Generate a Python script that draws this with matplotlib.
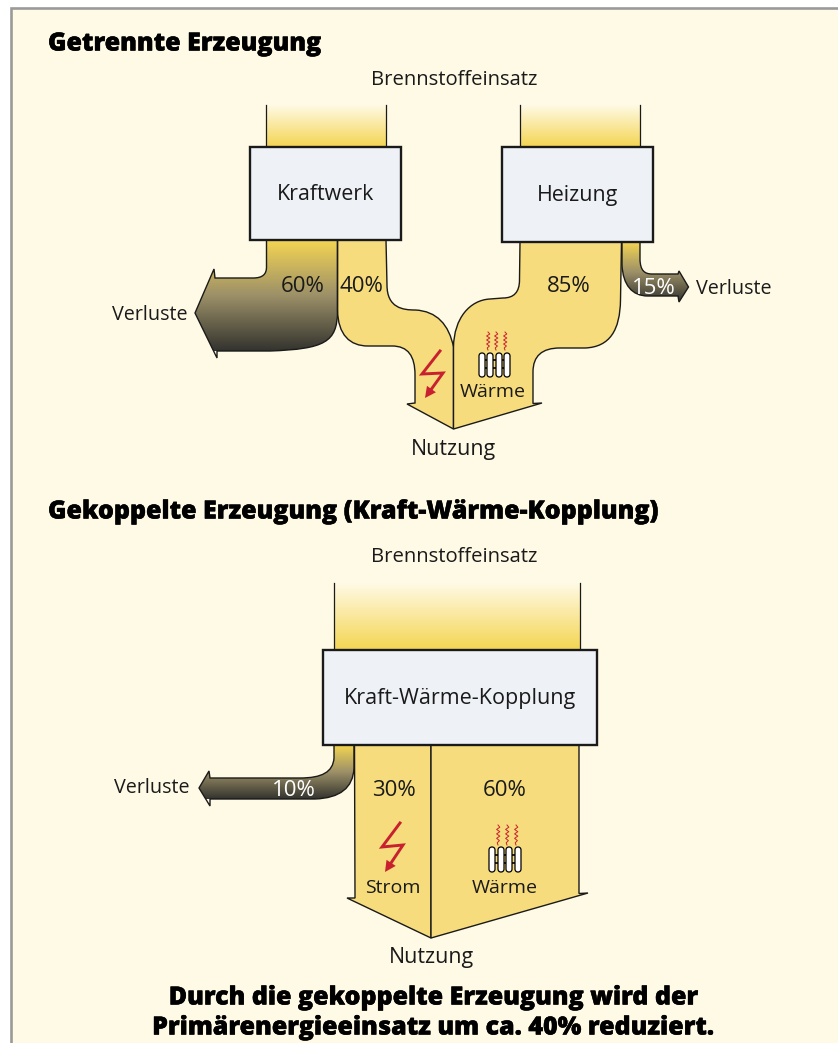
import numpy as np
import matplotlib
matplotlib.use("Agg")
import matplotlib.pyplot as plt
import matplotlib.patheffects as pe
from matplotlib.path import Path
from matplotlib.patches import PathPatch, Rectangle
from matplotlib.colors import LinearSegmentedColormap

plt.rcParams['font.family'] = ['Open Sans', 'DejaVu Sans']

# texts and values of the chart
titles = ["Getrennte Erzeugung", "Gekoppelte Erzeugung (Kraft-Wärme-Kopplung)"]
fuel_label = "Brennstoffeinsatz"
loss_label = "Verluste"
use_label = "Nutzung"
box_labels = ["Kraftwerk", "Heizung", "Kraft-Wärme-Kopplung"]
separate_pct = [60, 40, 85, 15]
coupled_pct = [10, 30, 60]
use_names = ["Wärme", "Strom"]
footer = ["Durch die gekoppelte Erzeugung wird der",
          "Primärenergieeinsatz um ca. 40% reduziert."]

# colours
panel_col = "#FFFAE5"
frame_col = "#9A9A9A"
stream_col = "#F6DC7C"
box_col = "#EEF2F7"
grad_top = "#F4D552"
grad_mid = "#9C9068"
grad_dark = "#33332E"
red = "#C8202F"
ink = "#1A1A1A"

W, H = 838, 1043
fig = plt.figure(figsize=(W / 100, H / 100), dpi=100)
ax = fig.add_axes([0, 0, 1, 1])
ax.set_xlim(0, W)
ax.set_ylim(H, 0)
ax.axis("off")

ax.add_patch(Rectangle((10.5, 8), W + 20, H + 20, fc=panel_col, ec=frame_col, lw=1.9, zorder=0))


def make_path(start, segs, close=True):
    verts = [start]
    codes = [Path.MOVETO]
    for s in segs:
        if len(s) == 2:
            verts.append(s)
            codes.append(Path.LINETO)
        else:
            verts += [s[0:2], s[2:4], s[4:6]]
            codes += [Path.CURVE4] * 3
    if close:
        verts.append(start)
        codes.append(Path.CLOSEPOLY)
    return Path(verts, codes)


def flow(start, segs):
    ax.add_patch(PathPatch(make_path(start, segs), fc=stream_col, ec=ink, lw=1.0, zorder=2))


def grad_fill(path, x0, x1, y0, y1, cols, z=2):
    cmap = LinearSegmentedColormap.from_list("g", cols)
    im = ax.imshow(np.linspace(0, 1, 256).reshape(-1, 1), cmap=cmap, extent=(x0, x1, y1, y0),
                   aspect="auto", zorder=z, interpolation="bilinear")
    p = PathPatch(path, fc="none", ec="none", transform=ax.transData)
    ax.add_patch(p)
    im.set_clip_path(p)
    ax.set_xlim(0, W)
    ax.set_ylim(H, 0)


def loss_arrow(start, segs, y0, y1):
    path = make_path(start, segs)
    grad_fill(path, 0, W, y0, y1, [grad_top, grad_mid, grad_dark])
    ax.add_patch(PathPatch(path, fc="none", ec=ink, lw=1.0, zorder=3))


def fuel(x0, x1, y0, y1):
    path = make_path((x0, y0), [(x1, y0), (x1, y1), (x0, y1)])
    grad_fill(path, x0, x1, y0, y1, [panel_col, grad_top], z=1)
    ax.plot([x0, x0], [y0, y1], color=ink, lw=0.9, zorder=2)
    ax.plot([x1, x1], [y0, y1], color=ink, lw=0.9, zorder=2)


def label_txt(x, y, s, col=ink, size=14.6, **kw):
    ax.text(x, y + 2, s, ha="center", va="center", fontsize=size, color=col, zorder=6, **kw)


def box(x0, x1, y0, y1, label, size):
    ax.add_patch(Rectangle((x0, y0), x1 - x0, y1 - y0, fc=box_col, ec=ink, lw=1.7, zorder=4))
    label_txt((x0 + x1) / 2, (y0 + y1) / 2 - 1, label, size=size)


def heading(x, y, s, ha="left"):
    t = ax.text(x, y, s, fontsize=18.0, fontweight="extra bold", color="black",
                ha=ha, va="center", zorder=6)
    t.set_path_effects([pe.withStroke(linewidth=0.35, foreground="black")])


def bolt(pts):
    (x0, y0), (x1, y1), (x2, y2), (x3, y3) = pts
    # stop the line short of the tip, the head is filled
    ax.plot([x0, x1, x2, x3 + (x2 - x3) * 0.2], [y0, y1, y2, y3 + (y2 - y3) * 0.2],
            color=red, lw=2.1, solid_joinstyle="miter", zorder=5)
    dx, dy = x3 - x2, y3 - y2
    n = np.hypot(dx, dy)
    dx, dy = dx / n, dy / n
    b = (x3 - dx * 11, y3 - dy * 11)
    ax.fill([x3, b[0] - dy * 5.5, b[0] + dy * 5.5], [y3, b[1] + dx * 5.5, b[1] - dx * 5.5],
            color=red, lw=0, zorder=5)


wiggle = [0, 1.8, -1.4, 1.8, -1.4, 1.8, -1.4, 1.4, -0.8, 0]


def radiator(col_x, y0, y1, wave_x, wave_y0, wave_y1):
    # connecting bars sit behind the white columns
    for yb in (y0 + (y1 - y0) * 0.3, y0 + (y1 - y0) * 0.63):
        ax.plot([col_x[0], col_x[-1]], [yb, yb], color="black", lw=1.2, zorder=4.5)
    for x in col_x:
        w = 3.0
        p = make_path((x - w, y0 + w), [
            (x - w, y0 + w * 0.3, x - w * 0.5, y0, x, y0),
            (x + w * 0.5, y0, x + w, y0 + w * 0.3, x + w, y0 + w),
            (x + w, y1 - w),
            (x + w, y1 - w * 0.3, x + w * 0.5, y1, x, y1),
            (x - w * 0.5, y1, x - w, y1 - w * 0.3, x - w, y1 - w)])
        ax.add_patch(PathPatch(p, fc="white", ec="black", lw=0.9, zorder=5))
    for x in wave_x:
        ys = np.linspace(wave_y0, wave_y1, len(wiggle))
        ax.plot(x + np.array(wiggle), ys, color=red, lw=0.7, zorder=5)


# --- Getrennte Erzeugung ---
fuel(266, 386, 105, 147)
fuel(520, 640, 105, 147)

loss_arrow((266.5, 240), [
    (266.5, 267),
    (266.5, 274, 263, 278, 253, 278),
    (215, 278), (214, 269), (195, 313), (217, 358), (217, 351),
    (270, 351),
    (325, 349, 337, 342, 337.5, 312),
    (337.5, 240)], 240, 351)

flow((337.5, 240), [
    (337.5, 310),
    (338, 335, 350, 346, 368, 346),
    (392, 346),
    (408, 346, 415, 356, 415, 375),
    (415, 403), (407, 404), (453.5, 429), (453.5, 347),
    (449, 325, 437, 311, 415, 310),
    (403, 310, 387, 308, 387, 285),
    (386, 240)])

flow((520, 242), [
    (519.5, 280),
    (519.5, 292, 514, 298, 503, 298),
    (490, 299),
    (470, 300, 454, 318, 453.5, 347),
    (453.5, 429), (542, 403), (533, 403.5),
    (533, 372),
    (533, 356, 542, 348, 560, 348),
    (585, 348),
    (610, 347, 620, 330, 620.5, 300),
    (621.5, 242)])

loss_arrow((622, 242), [
    (622, 265),
    (623, 285, 632, 296, 648, 296),
    (678, 296), (679, 302), (688.5, 287), (679, 271), (678, 274),
    (652, 274),
    (644, 274, 640.5, 270, 640, 260),
    (640, 242)], 242, 302)

box(249.5, 401, 147, 240, box_labels[0], 15.4)
box(502, 653, 147, 242, box_labels[1], 15.4)

label_txt(454, 78, fuel_label)
label_txt(303, 284, f"{separate_pct[0]}%", size=16)
label_txt(361, 284, f"{separate_pct[1]}%", size=16)
label_txt(569, 285, f"{separate_pct[2]}%", size=16)
label_txt(654, 286, f"{separate_pct[3]}%", col="white", size=16)
label_txt(150, 313, loss_label, size=14.2)
label_txt(734, 287, loss_label, size=14.2)
label_txt(453, 447, use_label, size=15.4)
label_txt(493, 390, use_names[0], size=14)

bolt([(440, 351), (422, 374), (443, 373), (425, 398)])
radiator([482, 490, 499, 507], 353, 377, [488, 496, 505], 332, 350)

# --- Gekoppelte Erzeugung ---
fuel(333.5, 580, 583, 650)

loss_arrow((334, 745), [
    (334, 758),
    (333, 772, 322, 778, 300, 778),
    (210, 778), (209, 771), (199, 788), (210, 806), (210, 799),
    (315, 799),
    (340, 798, 353, 788, 354, 768),
    (354, 745)], 745, 799)

flow((354.5, 745), [(355, 898), (347, 898), (431, 938), (431, 745)])
flow((431, 745), [(431, 938), (588, 893), (579, 893.5), (579, 745)])

box(323, 597, 650, 745, box_labels[2], 15.5)

label_txt(454, 555, fuel_label)
label_txt(294, 788, f"{coupled_pct[0]}%", col="white", size=16)
label_txt(394, 789, f"{coupled_pct[1]}%", size=16)
label_txt(505, 789, f"{coupled_pct[2]}%", size=16)
label_txt(152, 786, loss_label, size=14.2)
label_txt(431, 956, use_label, size=15.4)
label_txt(393, 886, use_names[1], size=14)
label_txt(505, 886, use_names[0], size=14)

bolt([(400, 823), (382, 847), (403, 845), (385, 872)])
radiator([492, 501, 509, 518], 847, 872, [498, 507, 516], 825, 845)

# --- headings ---
heading(48, 44, titles[0])
heading(48, 512, titles[1])
heading(433, 998, footer[0], ha="center")
heading(433, 1028, footer[1], ha="center")

fig.savefig("out.png", dpi=100)
